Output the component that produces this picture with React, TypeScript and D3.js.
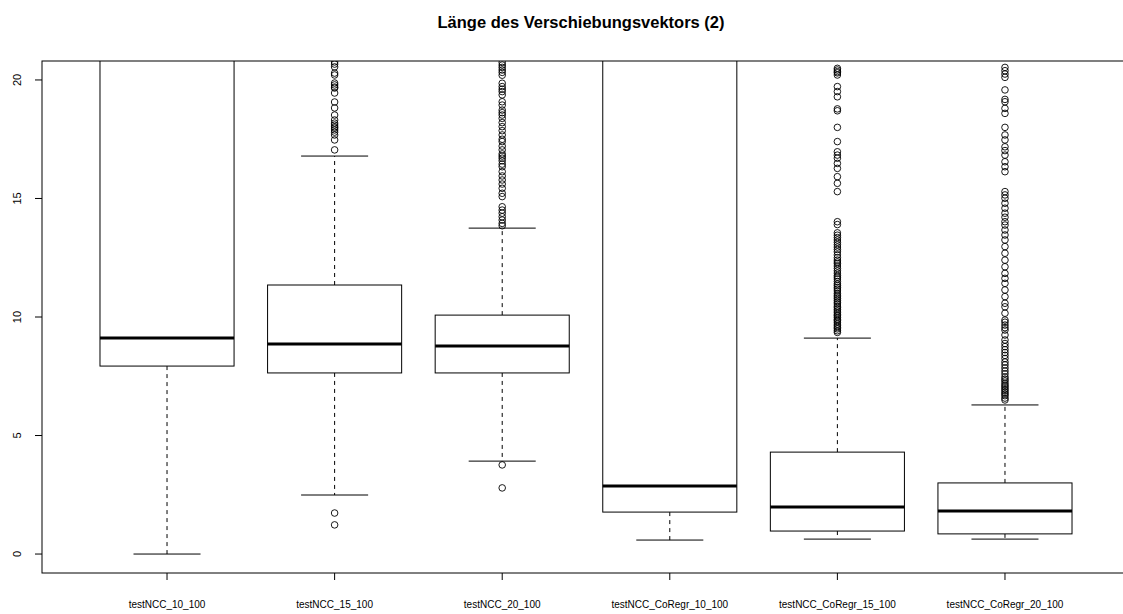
import React from "react";
import * as d3 from "d3";

const categories = [
  "testNCC_10_100",
  "testNCC_15_100",
  "testNCC_20_100",
  "testNCC_CoRegr_10_100",
  "testNCC_CoRegr_15_100",
  "testNCC_CoRegr_20_100",
];

const lowerWhisker = [0.0, 2.49, 3.92, 0.59, 0.63, 0.63];
const q1 = [7.93, 7.64, 7.64, 1.77, 0.97, 0.85];
const median = [9.11, 8.86, 8.78, 2.87, 1.98, 1.82];
const q3 = [24.0, 11.35, 10.08, 22.0, 4.3, 3.0];
const upperWhisker = [30.0, 16.79, 13.75, 30.0, 9.11, 6.29];

const outliers1: number[] = [];
const outliers2 = [
  1.23, 1.73, 17.05, 17.47, 17.68, 17.8, 17.89, 17.97, 18.02, 18.1, 18.18,
  18.31, 18.52, 18.82, 19.07, 19.45, 19.66, 19.7, 19.79, 19.87, 20.21, 20.29,
  20.55, 20.67, 20.76,
];
const outliers3 = [
  2.79, 3.76, 13.85, 13.95, 14.09, 14.23, 14.38, 14.51, 14.65, 15.08, 15.22,
  15.43, 15.61, 15.78, 15.95, 16.13, 16.34, 16.45, 16.59, 16.7, 16.79, 16.88,
  17.05, 17.21, 17.4, 17.5, 17.68, 17.86, 18.03, 18.2, 18.38, 18.52, 18.62,
  18.73, 18.94, 19.08, 19.37, 19.51, 19.61, 19.72, 19.86, 20.2, 20.32, 20.42,
  20.53, 20.63, 20.74,
];
const outliers4: number[] = [];
const outliers5 = [
  9.35, 9.42, 9.5, 9.56, 9.63, 9.7, 9.78, 9.85, 9.9, 9.98, 10.05, 10.1, 10.18,
  10.25, 10.32, 10.4, 10.46, 10.55, 10.62, 10.7, 10.78, 10.85, 10.92, 11.0,
  11.1, 11.18, 11.25, 11.33, 11.4, 11.5, 11.6, 11.68, 11.75, 11.85, 11.95,
  12.05, 12.15, 12.25, 12.32, 12.4, 12.5, 12.62, 12.75, 12.85, 12.95, 13.05,
  13.15, 13.25, 13.35, 13.45, 13.55, 13.9, 14.02, 15.29, 15.64, 15.92, 16.27,
  16.48, 16.7, 16.83, 16.97, 17.4, 18.0, 18.7, 18.78, 19.29, 19.51, 19.72,
  20.21, 20.3, 20.35, 20.42, 20.49,
];
const outliers6 = [
  6.5, 6.58, 6.68, 6.75, 6.82, 6.9, 6.97, 7.05, 7.12, 7.2, 7.3, 7.38, 7.47,
  7.6, 7.72, 7.85, 7.98, 8.1, 8.25, 8.38, 8.5, 8.62, 8.75, 8.88, 9.03, 9.24,
  9.45, 9.55, 9.66, 9.78, 9.87, 10.16, 10.43, 10.58, 10.86, 11.14, 11.42,
  11.63, 11.84, 12.12, 12.4, 12.69, 12.97, 13.25, 13.46, 13.67, 13.88, 14.02,
  14.21, 14.38, 14.59, 14.8, 15.01, 15.15, 15.29, 16.13, 16.34, 16.55, 16.83,
  17.02, 17.18, 17.47, 17.68, 18.0, 18.59, 18.8, 19.08, 19.18, 19.58, 20.11,
  20.25, 20.39, 20.53,
];
const outliers = [outliers1, outliers2, outliers3, outliers4, outliers5, outliers6];

const yTicks = [0, 5, 10, 15, 20];
const title = "Länge des Verschiebungsvektors (2)";

export default function App() {
  const W = 1123;
  const H = 614;
  const left = 42;
  const right = 1130;
  const top = 61;
  const bottom = 573;

  const x = d3.scaleLinear().domain([0.254, 6.746]).range([left, right]);
  const y = d3.scaleLinear().domain([-0.8, 20.8]).range([bottom, top]);
  const boxW = (x(1.8) - x(1)) ;
  const capW = boxW / 2;
  const font = "'Liberation Sans', Arial, sans-serif";

  return (
    <svg
      width={W}
      height={H}
      style={{ position: "absolute", left: 0, top: 0, background: "#fff" }}
      fontFamily={font}
    >
      <defs>
        <clipPath id="plotclip">
          <rect x={left} y={top} width={right - left} height={bottom - top} />
        </clipPath>
      </defs>
      <rect x={0} y={0} width={W} height={H} fill="#fff" />
      <text
        x={581}
        y={28}
        textAnchor="middle"
        fontSize={16.5}
        fontWeight="bold"
        fill="#000"
      >
        {title}
      </text>
      <g clipPath="url(#plotclip)">
        {categories.map((c, i) => {
          const cx = x(i + 1);
          return (
            <g key={c}>
              <line
                x1={cx}
                x2={cx}
                y1={y(q3[i])}
                y2={y(upperWhisker[i])}
                stroke="#000"
                strokeDasharray="4,4"
              />
              <line
                x1={cx}
                x2={cx}
                y1={y(q1[i])}
                y2={y(lowerWhisker[i])}
                stroke="#000"
                strokeDasharray="4,4"
              />
              <line
                x1={cx - capW / 2}
                x2={cx + capW / 2}
                y1={y(upperWhisker[i])}
                y2={y(upperWhisker[i])}
                stroke="#000"
              />
              <line
                x1={cx - capW / 2}
                x2={cx + capW / 2}
                y1={y(lowerWhisker[i])}
                y2={y(lowerWhisker[i])}
                stroke="#000"
              />
              <rect
                x={cx - boxW / 2}
                y={y(q3[i])}
                width={boxW}
                height={y(q1[i]) - y(q3[i])}
                fill="#fff"
                stroke="#000"
              />
              <line
                x1={cx - boxW / 2}
                x2={cx + boxW / 2}
                y1={y(median[i])}
                y2={y(median[i])}
                stroke="#000"
                strokeWidth={3}
              />
              {outliers[i].map((v, j) => (
                <circle
                  key={j}
                  cx={cx}
                  cy={y(v)}
                  r={3.3}
                  fill="none"
                  stroke="#000"
                  strokeWidth={0.9}
                />
              ))}
            </g>
          );
        })}
      </g>
      <rect
        x={left}
        y={top}
        width={right - left}
        height={bottom - top}
        fill="none"
        stroke="#000"
      />
      {yTicks.map((t) => (
        <g key={t}>
          <line x1={left - 7} x2={left} y1={y(t)} y2={y(t)} stroke="#000" />
          <text
            transform={`translate(${left - 25},${y(t)}) rotate(-90)`}
            textAnchor="middle"
            dy="0.35em"
            fontSize={11}
            fill="#000"
          >
            {t}
          </text>
        </g>
      ))}
      {categories.map((c, i) => (
        <g key={c}>
          <line
            x1={x(i + 1)}
            x2={x(i + 1)}
            y1={bottom}
            y2={bottom + 7}
            stroke="#000"
          />
          <text
            x={x(i + 1)}
            y={608}
            textAnchor="middle"
            fontSize={10}
            fill="#000"
          >
            {c}
          </text>
        </g>
      ))}
    </svg>
  );
}
